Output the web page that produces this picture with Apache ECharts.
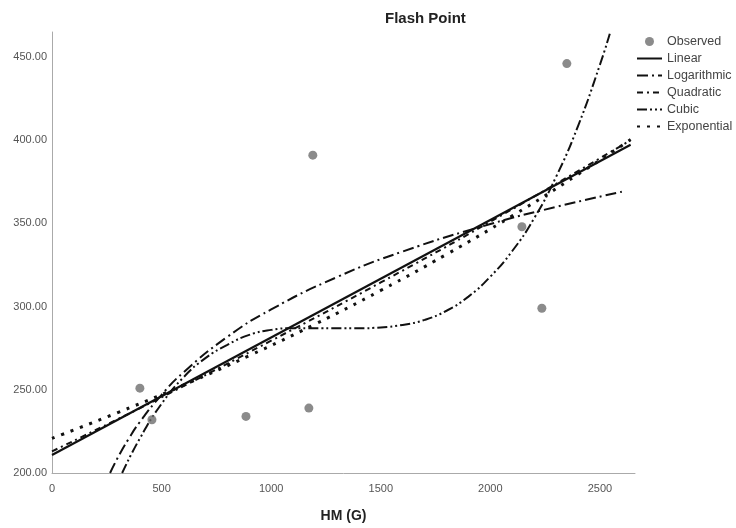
<!DOCTYPE html>
<html>
<head>
<meta charset="utf-8">
<title>Flash Point</title>
<script src="https://cdn.jsdelivr.net/npm/echarts@6/dist/echarts.min.js"></script>
<style>
    html, body { margin: 0; padding: 0; background: #fff; }
    #chart { width: 736px; height: 528px; }
</style>
</head>
<body>
<div id="chart"></div>
<script>
// observed points (HM (G), Flash Point)
const obsX = [401, 456, 885, 1172, 1190, 2144, 2235, 2349];
const obsY = [251, 232, 234, 239, 391, 348, 299, 446];

// fitted curves
const linX = [0, 2640];
const linY = [210.8, 397.3];

const logX = [265, 300, 350, 400, 500, 600, 800, 1000, 1300, 1600, 2000, 2300, 2600];
const logY = [200, 209.2, 220.6, 230.5, 247.0, 260.5, 281.8, 298.3, 317.7, 333.1, 349.6, 359.9, 369.0];

const quadX = [0, 500, 1000, 1500, 2000, 2640];
const quadY = [213, 245.5, 279.5, 314.5, 351, 400];

const cubX = [320, 400, 500, 600, 700, 800, 900, 1000, 1100, 1200, 1300, 1400, 1500, 1600, 1700, 1800, 1900, 2000, 2100, 2200, 2300, 2400, 2500, 2545];
const cubY = [200, 220.6, 241.6, 257.5, 269, 277, 283, 286, 287, 287, 287, 287, 287.5, 289, 292, 297.5, 306, 318, 333.4, 353.1, 378.0, 408.5, 445.3, 464];

const expX = [0, 300, 600, 900, 1200, 1500, 1800, 2100, 2400, 2640];
const expY = [220.8, 236.3, 252.8, 270.5, 289.4, 309.7, 331.4, 354.5, 379.4, 400.4];

const xTicks = [0, 500, 1000, 1500, 2000, 2500];
const yTicks = [200, 250, 300, 350, 400, 450];

function pairs(xs, ys) {
    return xs.map((x, i) => [x, ys[i]]);
}

let chart = echarts.init(document.getElementById('chart'));

const font = 'Liberation Sans, Arial, sans-serif';
const ink = '#111';

function curve(name, xs, ys, dash, width) {
    return {
        name: name,
        type: 'line',
        data: pairs(xs, ys),
        smooth: true,
        symbol: 'none',
        lineStyle: {color: ink, width: width || 2, type: dash},
        itemStyle: {color: ink},
        z: 3
    };
}

// line entries in the legend: no dot on the line icon
const noDot = {opacity: 0};

const option = {
    backgroundColor: '#fff',
    animation: false,
    title: {
        text: 'Flash Point',
        left: 380,
        top: 6,
        textStyle: {fontFamily: font, fontSize: 15, fontWeight: 'bold', color: '#222'}
    },
    legend: {
        orient: 'vertical',
        left: 636,
        top: 35,
        padding: 0,
        itemWidth: 25,
        itemHeight: 9,
        itemGap: 4,
        textStyle: {fontFamily: font, fontSize: 12.5, color: '#444'},
        data: [
            {name: 'Observed'},
            {name: 'Linear', itemStyle: noDot},
            {name: 'Logarithmic', itemStyle: noDot},
            {name: 'Quadratic', itemStyle: noDot},
            {name: 'Cubic', itemStyle: noDot},
            {name: 'Exponential', itemStyle: noDot}
        ]
    },
    grid: {left: 52, right: 101, top: 32, bottom: 55},
    xAxis: {
        type: 'value',
        min: 0,
        max: 2660,
        interval: 500,
        name: 'HM (G)',
        nameLocation: 'middle',
        nameGap: 36,
        nameTextStyle: {fontFamily: font, fontSize: 14, fontWeight: 'bold', color: '#222'},
        axisLine: {lineStyle: {color: '#aaa'}},
        axisTick: {show: false},
        splitLine: {show: false},
        axisLabel: {
            fontFamily: font, fontSize: 11, color: '#555', margin: 10,
            formatter: v => xTicks.indexOf(v) >= 0 ? String(v) : ''
        }
    },
    yAxis: {
        type: 'value',
        min: 200,
        max: 465,
        interval: 50,
        axisLine: {show: true, lineStyle: {color: '#aaa'}},
        axisTick: {show: false},
        splitLine: {show: false},
        axisLabel: {
            fontFamily: font, fontSize: 11, color: '#555', margin: 5,
            formatter: v => yTicks.indexOf(v) >= 0 ? v.toFixed(2) : ''
        }
    },
    series: [
        {
            name: 'Observed',
            type: 'scatter',
            data: pairs(obsX, obsY),
            symbolSize: 9,
            itemStyle: {color: '#6e6e6e'},
            z: 4
        },
        curve('Linear', linX, linY, 'solid', 2.2),
        curve('Logarithmic', logX, logY, [11, 4, 2, 4]),
        curve('Quadratic', quadX, quadY, [6, 4, 2, 4]),
        curve('Cubic', cubX, cubY, [10, 3, 2, 3, 2, 3]),
        curve('Exponential', expX, expY, [3, 7], 3)
    ]
};

chart.setOption(option);
window.addEventListener('resize', function () {
    chart.resize();
});
</script>
</body>
</html>
